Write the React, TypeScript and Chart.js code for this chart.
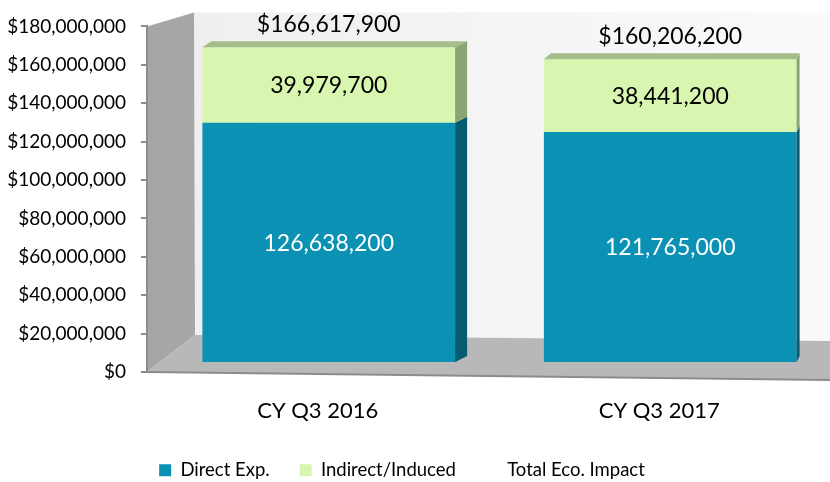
import React, { useEffect, useRef } from 'react';
import { Chart, registerables } from 'chart.js';

Chart.register(...registerables);

const categories = ['CY Q3 2016', 'CY Q3 2017'];
const directExp = [126638200, 121765000];
const indirectInduced = [39979700, 38441200];
const totalImpact = [166617900, 160206200];
const seriesNames = ['Direct Exp.', 'Indirect/Induced', 'Total Eco. Impact'];

const FONT = 'Lato, "Open Sans", sans-serif';
const BLUE = '#0a91b4';
const BLUE_SIDE = '#065b71';
const GREEN = '#d9f6b1';
const GREEN_SIDE = '#8aa573';
const GREEN_TOP = '#a4bd89';

// perspective depth styling per category
const sideDx = [12, 3];
const topLeftDx = [9, 7];
const depthDy = 6;
const barShift = 11;
const legendShift = -13;

const fmt = (v: number) => Number(v).toLocaleString('en-US');

function poly(ctx: CanvasRenderingContext2D, pts: number[][], fill: any) {
  ctx.beginPath();
  ctx.moveTo(pts[0][0], pts[0][1]);
  for (let i = 1; i < pts.length; i++) ctx.lineTo(pts[i][0], pts[i][1]);
  ctx.closePath();
  ctx.fillStyle = fill;
  ctx.fill();
}

const wallsPlugin = {
  id: 'walls3d',
  afterLayout(chart: any) {
    if (chart.legend) {
      chart.legend.left += legendShift;
      chart.legend.right += legendShift;
    }
  },
  beforeDraw(chart: any) {
    const { ctx, chartArea } = chart;
    const { left: L, top: T, right: R, bottom: B } = chartArea;
    ctx.save();
    const g = ctx.createLinearGradient(L + 47, 0, R, 0);
    g.addColorStop(0, '#efefef');
    g.addColorStop(1, '#fafafa');
    poly(ctx, [[L + 47, T - 14], [R, T - 14], [R, B - 31], [L + 48, B - 37]], g);
    poly(ctx, [[L, T], [L + 47, T - 14], [L + 48, B - 37], [L, B]], '#a6a6a6');
    poly(ctx, [[L, B], [L + 48, B - 37], [R, B - 31], [R, B + 8]], '#b8b8b8');
    ctx.strokeStyle = '#8c8c8c';
    ctx.lineWidth = 2;
    ctx.beginPath();
    ctx.moveTo(L, B);
    ctx.lineTo(R, B + 8);
    ctx.stroke();
    ctx.restore();
  },
  beforeDatasetsDraw(chart: any) {
    chart.ctx.save();
    chart.ctx.translate(barShift, 0);
  },
  afterDatasetsDraw(chart: any) {
    const ctx = chart.ctx;
    [0, 1].forEach((di) => {
      const meta = chart.getDatasetMeta(di);
      meta.data.forEach((el: any, j: number) => {
        const x0 = el.x - el.width / 2;
        const x1 = el.x + el.width / 2;
        const top = Math.min(el.y, el.base);
        const bot = Math.max(el.y, el.base);
        poly(ctx, [[x1, top], [x1 + sideDx[j], top - depthDy], [x1 + sideDx[j], bot - depthDy], [x1, bot]], di === 0 ? BLUE_SIDE : GREEN_SIDE);
        if (di === 1) {
          poly(ctx, [[x0, top], [x0 + topLeftDx[j], top - depthDy], [x1 + sideDx[j], top - depthDy], [x1, top]], GREEN_TOP);
        }
      });
    });
    ctx.textAlign = 'center';
    ctx.textBaseline = 'middle';
    ctx.font = `23px ${FONT}`;
    [0, 1].forEach((di) => {
      const meta = chart.getDatasetMeta(di);
      const ds = chart.data.datasets[di];
      meta.data.forEach((el: any, j: number) => {
        ctx.fillStyle = di === 0 ? '#ffffff' : '#000000';
        ctx.fillText(fmt(ds.data[j]), el.x, (el.y + el.base) / 2 + 1);
      });
    });
    const tmeta = chart.getDatasetMeta(2);
    const tds = chart.data.datasets[2];
    tmeta.data.forEach((el: any, j: number) => {
      ctx.fillStyle = '#000000';
      ctx.fillText('$' + fmt(tds.data[j]), el.x, el.y - 23);
    });
    ctx.restore();
  },
};

export default function App() {
  const ref = useRef<HTMLCanvasElement | null>(null);
  useEffect(() => {
    document.body.style.margin = '0';
    if (!ref.current) return;
    const chart = new Chart(ref.current, {
      type: 'bar',
      data: {
        labels: categories,
        datasets: [
          {
            label: seriesNames[0],
            data: directExp,
            backgroundColor: BLUE,
            yAxisID: 'yBars',
            stack: 'a',
            categoryPercentage: 1,
            barPercentage: 0.74,
          } as any,
          {
            label: seriesNames[1],
            data: indirectInduced,
            backgroundColor: GREEN,
            yAxisID: 'yBars',
            stack: 'a',
            categoryPercentage: 1,
            barPercentage: 0.74,
          },
          {
            type: 'line',
            label: seriesNames[2],
            data: totalImpact,
            yAxisID: 'yBars',
            stack: 'total',
            showLine: false,
            pointRadius: 0,
            borderColor: 'rgba(0,0,0,0)',
            backgroundColor: 'rgba(0,0,0,0)',
          },
        ],
      },
      options: {
        responsive: false,
        animation: false,
        layout: { padding: { top: 24, left: 0, right: 0, bottom: 0 } },
        plugins: {
          tooltip: { enabled: false },
          legend: {
            position: 'bottom',
            maxHeight: 51,
            labels: {
              boxWidth: 12,
              boxHeight: 12,
              padding: 30,
              color: '#000',
              font: { family: FONT, size: 18.5 },
            },
          },
        },
        scales: {
          x: {
            stacked: true,
            grid: { display: false, drawTicks: false },
            border: { display: false },
            ticks: { color: '#000', padding: 26, font: { family: FONT, size: 22 } },
            afterFit: (s: any) => { s.height = 59; },
          },
          y: {
            position: 'left',
            min: 0,
            max: 180000000,
            ticks: {
              stepSize: 20000000,
              color: '#000',
              padding: 15,
              font: { family: FONT, size: 19 },
              callback: (v: any) => '$' + fmt(v),
            },
            grid: { drawOnChartArea: false, tickLength: 6, color: '#8c8c8c', lineWidth: 2 },
            border: { color: '#8c8c8c', width: 2 },
            afterFit: (s: any) => { s.width = 147; },
          },
          yBars: {
            display: false,
            stacked: true,
            min: -5250000,
            max: 177600000,
          },
        },
      },
      plugins: [wallsPlugin],
    });
    return () => chart.destroy();
  }, []);
  return (
    <div style={{ width: 830, height: 482 }}>
      <canvas ref={ref} width={830} height={482} />
    </div>
  );
}
